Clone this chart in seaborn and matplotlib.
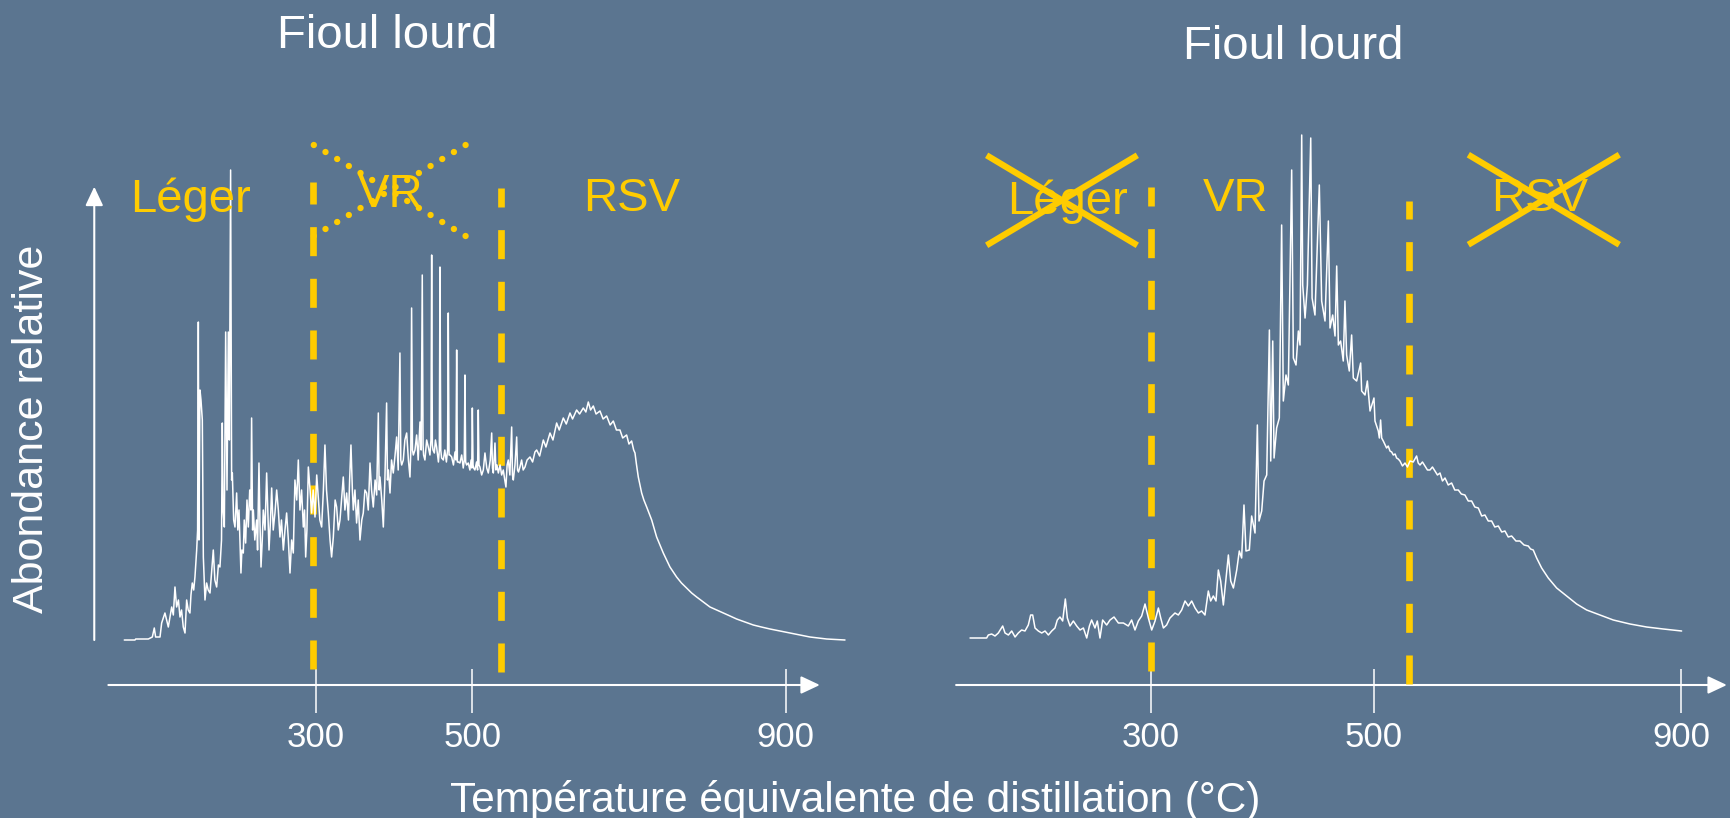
import numpy as np
import matplotlib
matplotlib.use("Agg")
import matplotlib.pyplot as plt
from matplotlib.ticker import FixedLocator
import seaborn as sns

# ---------------- data ----------------
tick_values = [300, 500, 900]
tick_labels = ["300", "500", "900"]

title_left = "Fioul lourd"
title_right = "Fioul lourd"
xlabel = "Température équivalente de distillation (°C)"
ylabel = "Abondance relative"
region_names = ["Léger", "VR", "RSV"]

# cut temperatures (°C)
left_cuts = [296.3, 536.7]
right_cuts = [300.0, 546.4]

# left chromatogram: temperature (°C) and relative abundance (arb. units)
left_T = [55.9, 69.6, 70.4, 86.6, 91.7, 94.2, 95.9, 101.5, 103.6, 107.8, 110, 112.1, 116.4, 118.5, 120.6,
          122.7, 125, 127.0, 129, 131.2, 133.4, 135.5, 137.5, 139.7, 141, 142.7, 144.5, 146.1, 148.3, 149.5,
          150.4, 151.2, 152.5, 153.8, 155.5, 156.8, 158.9, 161.0, 163, 165.3, 167.5, 169.5, 171.5, 173.8, 176,
          178.0, 180, 181.0, 182, 183.6, 185.3, 187, 188.7, 190, 191.6, 192.9, 193.8, 195.5, 197.2, 199.3,
          200.8, 202.3, 204.8, 206, 207.8, 209, 210.8, 212.5, 214.2, 216, 217.5, 218.4, 219.7, 220.6, 222.5,
          224.8, 226, 227.8, 229, 230.4, 232, 233.3, 235.5, 237.6, 239, 240.6, 242.5, 244.0, 246, 248.2,
          250.4, 252.5, 254.6, 256.5, 258.9, 261, 263.1, 265.3, 267.4, 269.5, 271.6, 273.7, 276, 278.0, 280.1,
          282.2, 284.4, 286, 287.4, 289, 290.8, 293, 295.0, 297, 299.3, 301.5, 303.5, 305.5, 307.8, 310,
          312.0, 314, 316.3, 318.5, 320.5, 322.7, 325, 326.9, 329, 331.2, 333.2, 335.4, 337.5, 339.7, 342,
          343.5, 345.2, 347, 348.2, 350.3, 352.4, 354.5, 356.7, 359, 360.9, 363, 365.2, 367.3, 369.5, 371.5,
          373.7, 376, 378, 380.1, 381.2, 382.2, 384.5, 386.5, 388.5, 390.7, 391.8, 393, 395.0, 397, 399.2,
          401.5, 403.5, 405.5, 407.7, 408.8, 409.9, 412.0, 414, 416.3, 418.5, 420.5, 421.6, 422.6, 423.7,
          424.8, 426.9, 429, 431, 433.3, 434.8, 436.2, 437.2, 437.9, 439.6, 441.8, 443.9, 446, 447.3, 448.2,
          449.1, 449.9, 451.6, 453, 454.5, 456.8, 458.0, 458.8, 459.8, 460.9, 463.1, 465, 467, 468.5, 469.4,
          470.4, 471.6, 473.7, 476, 478, 479.2, 480.1, 481.0, 482.2, 484.3, 486.5, 488.5, 489.8, 490.7, 491.6,
          492.8, 494.9, 497, 498.5, 499.4, 500.1, 501.0, 501.7, 503.4, 505.5, 506.8, 507.7, 508.6, 509.8,
          512, 514.1, 516.2, 518.5, 520.5, 523, 524.8, 525.8, 526.9, 529.0, 530.2, 531.5, 533.3, 535.5,
          537.5, 539.6, 541.5, 543.0, 544.5, 546.0, 548, 550.3, 551.3, 552.4, 554.5, 556.7, 557.8, 559,
          560.9, 563, 565, 567.3, 570, 573.7, 577, 580, 582.2, 586, 590.7, 594, 599.2, 603, 607.7, 611,
          616.2, 620, 624.7, 628, 633.2, 637, 641.7, 645, 648.1, 651, 654.5, 658, 663.0, 667, 671.5, 676,
          680.0, 684, 688.5, 692, 697.0, 700, 703.4, 706, 707.7, 709.5, 711.9, 714, 716.2, 719, 722.6, 725.5,
          729.0, 732, 735.3, 739.5, 743.8, 748, 752.3, 756.5, 760.8, 767, 773.6, 780, 786.4, 795, 803.4, 812,
          820.4, 829, 837.4, 848, 858.7, 869, 880.0, 893, 905.5, 918, 931.0, 942, 952.3, 965, 975.7]
left_A = [0, 0, 1, 1, 3, 12, 3, 3, 17, 27, 20, 13, 33, 25, 53,
          33, 40, 23, 30, 13, 7, 40, 30, 27, 45, 57, 50, 63, 90, 110,
          318, 100, 250, 240, 220, 83, 40, 57, 50, 47, 70, 90, 60, 53, 75,
          73, 100, 217, 130, 113, 308, 150, 308, 200, 470, 160, 167, 120, 113, 147,
          110, 130, 67, 90, 87, 120, 97, 140, 113, 150, 130, 222, 110, 130, 100,
          120, 90, 177, 120, 73, 100, 130, 110, 167, 130, 90, 120, 152, 110, 127,
          150, 130, 103, 120, 90, 110, 127, 100, 67, 100, 87, 160, 140, 180, 130,
          150, 113, 130, 83, 110, 173, 150, 127, 150, 123, 165, 143, 120, 113, 150,
          195, 150, 127, 100, 83, 103, 140, 133, 110, 120, 140, 163, 130, 147, 120,
          160, 195, 150, 130, 150, 117, 140, 100, 120, 127, 150, 147, 130, 177, 150,
          133, 160, 145, 227, 150, 163, 140, 113, 160, 237, 160, 170, 147, 180, 167,
          185, 203, 170, 287, 180, 175, 180, 200, 207, 180, 163, 190, 332, 190,
          185, 190, 205, 180, 218, 190, 365, 195, 185, 180, 200, 193, 185, 200, 385,
          195, 190, 187, 200, 193, 178, 190, 373, 190, 182, 180, 190, 178, 190, 327,
          185, 185, 183, 175, 188, 180, 290, 178, 178, 177, 185, 172, 180, 265, 178,
          175, 177, 170, 180, 172, 232, 175, 172, 170, 178, 170, 230, 175, 173,
          165, 170, 187, 172, 167, 180, 207, 172, 167, 197, 170, 175, 167, 175,
          165, 170, 160, 153, 175, 180, 165, 213, 165, 160, 175, 203, 170, 168,
          173, 180, 170, 173, 180, 183, 178, 188, 190, 184, 200, 193, 207, 200, 217, 210,
          222, 216, 227, 221, 230, 226, 232, 228, 238, 230, 234, 226, 229, 221, 224, 215,
          219, 210, 210, 202, 205, 196, 199, 190, 187, 176, 163, 155, 147, 140, 133, 127,
          120, 112, 103, 95, 87, 80, 73, 68, 63, 57, 52, 47, 43, 38, 33, 30,
          27, 24, 21, 18, 15, 13, 11, 9, 7, 5, 3, 2, 1, 0.5, 0]

# right chromatogram
right_T = [137.9, 152.8, 154.3, 157.3, 160.3, 163.3, 167.2, 169.3, 172.3, 175.3, 178.3, 181.2, 184.2, 187.2,
           190.2, 192.3, 194.1, 196.2, 199.2, 202.2, 205.2, 208.2, 211.2, 214.1, 216.2, 218.6, 221.0, 223.4,
           225.2, 227.6, 230.6, 233.6, 236.6, 239.6, 242.6, 245.0, 247.0, 250.0, 252.1, 254.5, 256.9, 260.5,
           263.5, 267.1, 271.0, 275.5, 279.9, 282.9, 285.9, 288.9, 291.9, 294.9, 297.9, 300.9, 303.9, 306.9,
           309.0, 311.4, 314.3, 317.3, 321.8, 324.8, 327.8, 330.8, 333.8, 336.8, 339.8, 342.8, 345.7, 348.7,
           351.7, 353.8, 356.2, 358.6, 360.7, 362.8, 365.2, 366.7, 369.7, 371.8, 374.2, 377.2, 379.5, 381.6,
           383.7, 385.5, 388.5, 390.6, 393.6, 395.7, 397.2, 399.6, 401.7, 404.1, 406.5, 407.7, 409.5, 410.7,
           413.0, 415.4, 417.5, 419.0, 421.4, 423.5, 426.5, 428.0, 430.4, 432.5, 434.0, 435.5, 436.4, 438.5,
           440.6, 443.6, 444.8, 447.4, 451.3, 453.4, 456.4, 459.4, 460.9, 463.3, 465.4, 466.9, 468.4, 470.4,
           472.8, 474.3, 475.8, 478.2, 480.3, 481.8, 484.8, 488.4, 489.3, 492.3, 494.4, 496.8, 500.5, 501.8,
           504, 506.1, 507.5, 509.1, 510.5, 512.6, 515, 516.9, 519, 521.3, 523.5, 525.6, 528, 529.9, 532,
           534.3, 537.5, 540.8, 544, 547.3, 551.5, 555.9, 558, 560.3, 563.5, 566.8, 570, 573.3, 576.5, 579.8,
           583, 586.3, 589.5, 592.8, 597, 601.4, 605.5, 610.1, 614, 618.7, 623, 627.4, 631.5, 636.1, 640.5,
           644.7, 649, 653.4, 657.5, 662.1, 666.5, 670.7, 675, 679.4, 685, 690.2, 695.5, 701.0, 704, 707.5,
           711.9, 718.4, 727.0, 737.9, 750.9, 763.9, 776.9, 794.2, 811.5, 833.2, 854.8, 876.5, 900.3]
right_A = [0, 0, 3, 4, 2, 5, 12, 5, 3, 7, 1, 5, 8, 7,
           13, 23, 23, 10, 7, 5, 7, 3, 7, 10, 18, 21, 17, 39,
           20, 12, 17, 12, 8, 10, 0, 12, 18, 10, 17, 0, 18, 13,
           18, 21, 15, 15, 12, 18, 8, 17, 22, 34, 20, 8, 17, 30,
           20, 10, 13, 20, 25, 23, 28, 37, 32, 37, 30, 25, 27, 23,
           47, 37, 42, 37, 68, 57, 33, 50, 83, 57, 50, 68, 87, 80,
           133, 87, 88, 122, 105, 213, 117, 127, 157, 163, 308, 177, 297, 180,
           210, 220, 413, 237, 263, 253, 468, 280, 273, 307, 293, 503, 353, 320,
           353, 500, 340, 323, 453, 337, 317, 417, 310, 323, 302, 372, 293, 297,
           277, 337, 283, 267, 303, 260, 257, 275, 247, 243, 257, 227, 240, 217,
           212, 207, 200, 218, 200, 197, 193, 190, 192, 187, 186, 183, 184, 180, 179,
           177, 172, 175, 171, 177, 176, 182, 175, 173, 176, 172, 168, 168, 171, 167,
           163, 165, 157, 160, 153, 155, 148, 148, 144, 143, 137, 137, 131, 130, 122,
           123, 117, 117, 111, 112, 106, 107, 101, 102, 97, 97, 93, 92, 89, 88,
           80, 70, 60, 50, 42, 34, 28, 23, 18, 14, 11, 9, 7]

# ---------------- style ----------------
BG = "#5B7590"
YEL = "#FFCC00"
WHITE = "white"

sns.set_style("white")
plt.rcParams["font.family"] = ["Liberation Sans", "DejaVu Sans"]
plt.rcParams["lines.scale_dashes"] = False

fig = plt.figure(figsize=(17.3, 8.18), dpi=100, facecolor=BG)
axL = fig.add_axes([0.03746, 0.16259, 0.47104, 0.71516])
axR = fig.add_axes([0.54274, 0.16259, 0.45585, 0.71516])

# right panel uses a compressed (piecewise-linear) temperature axis
R_NODES_T = [-200.0, 300.0, 500.0, 1500.0]
R_NODES_P = [593.45, 1150.7, 1373.6, 2143.1]
def fwd(t):
    return np.interp(t, R_NODES_T, R_NODES_P)
def inv(p):
    return np.interp(p, R_NODES_P, R_NODES_T)
axR.set_xscale("function", functions=(fwd, inv))

sns.lineplot(x=left_T, y=left_A, ax=axL, color=WHITE, linewidth=1.1,
             estimator=None, sort=False, zorder=5)
sns.lineplot(x=right_T, y=right_A, ax=axR, color=WHITE, linewidth=1.1,
             estimator=None, sort=False, zorder=5)


def setup(ax, xlim, ylim):
    ax.set_facecolor(BG)
    ax.patch.set_alpha(0)
    for s in ax.spines.values():
        s.set_visible(False)
    ax.set_xlim(*xlim)
    ax.set_ylim(*ylim)
    ax.set_yticks([])
    ax.set_xticks(tick_values, labels=tick_labels)
    ax.xaxis.set_minor_locator(FixedLocator(tick_values))
    ax.xaxis.remove_overlapping_locs = False
    ax.tick_params(axis="x", which="major", bottom=True, direction="out", length=20.2,
                   width=1.1, color=WHITE, pad=5.8, labelsize=25, labelcolor=WHITE)
    ax.tick_params(axis="x", which="minor", bottom=True, direction="in", length=11.5,
                   width=1.1, color=WHITE)
    ax.set_xlabel("")
    ax.set_ylabel("")
    ax.grid(False)


setup(axL, (-20, 1020), (-45, 540))
setup(axR, (110, 960), (-47, 538))

ARROW = dict(arrowstyle="-|>,head_length=11.5,head_width=5.4", color=WHITE, lw=1.5,
             shrinkA=0, shrinkB=0, mutation_scale=1)


def arrow(ax, p0, p1):
    ax.annotate("", xy=p1, xytext=p0, xycoords="data", textcoords="data",
                arrowprops=ARROW, annotation_clip=False)


arrow(axL, (35.6, -45), (943.6, -45))
arrow(axL, (17.6, 0), (17.6, 453.3))
arrow(axR, (125.4, -47), (959.1, -47))

DASH = dict(color=YEL, lw=4.8, dashes=(20.9, 16.3), dash_capstyle="butt", zorder=3)
axL.plot([left_cuts[0]] * 2, [-29, 458], **DASH)
axL.plot([left_cuts[1]] * 2, [-32, 452], **DASH)
axR.plot([right_cuts[0]] * 2, [-32.7, 450.7], **DASH)
axR.plot([right_cuts[1]] * 2, [-46, 436.7], **DASH)

LBL = dict(color=YEL, fontsize=34, ha="center", va="baseline", zorder=6)
axL.text(140.8, 428.3, region_names[0], **LBL)
axL.text(396.1, 433.3, region_names[1], **LBL)
axL.text(703.0, 429.3, region_names[2], **LBL)
axR.text(225.3, 424.0, region_names[0], **LBL)
axR.text(375.9, 427.3, region_names[1], **LBL)
axR.text(715.9, 426.7, region_names[2], **LBL)

# dotted cross over VR (left)
DOT = dict(color=YEL, lw=4.6, dashes=(0.01, 9.79), dash_capstyle="round", zorder=7)
axL.plot([297.8, 491.5], [495, 404], **DOT)
axL.plot([297.8, 491.5], [404, 495], **DOT)

# solid crosses (right)
CROSS = dict(color=YEL, lw=4.5, solid_capstyle="butt", zorder=7)
axR.plot([152.8, 288.0], [482.7, 392.7], **CROSS)
axR.plot([152.8, 288.0], [392.7, 482.7], **CROSS)
axR.plot([623.1, 819.3], [483.3, 393.3], **CROSS)
axR.plot([623.1, 819.3], [393.3, 483.3], **CROSS)

fig.text(0.2240, 0.9410, title_left, color=WHITE, fontsize=34, ha="center", va="baseline")
fig.text(0.7476, 0.9275, title_right, color=WHITE, fontsize=34, ha="center", va="baseline")
fig.text(0.4943, 0.0077, xlabel, color=WHITE, fontsize=30.5, ha="center", va="baseline")
fig.text(0.02514, 0.4753, ylabel, color=WHITE, fontsize=31, ha="center", va="baseline",
         rotation=90, rotation_mode="anchor")

fig.savefig("out.png", dpi=100, facecolor=BG)
